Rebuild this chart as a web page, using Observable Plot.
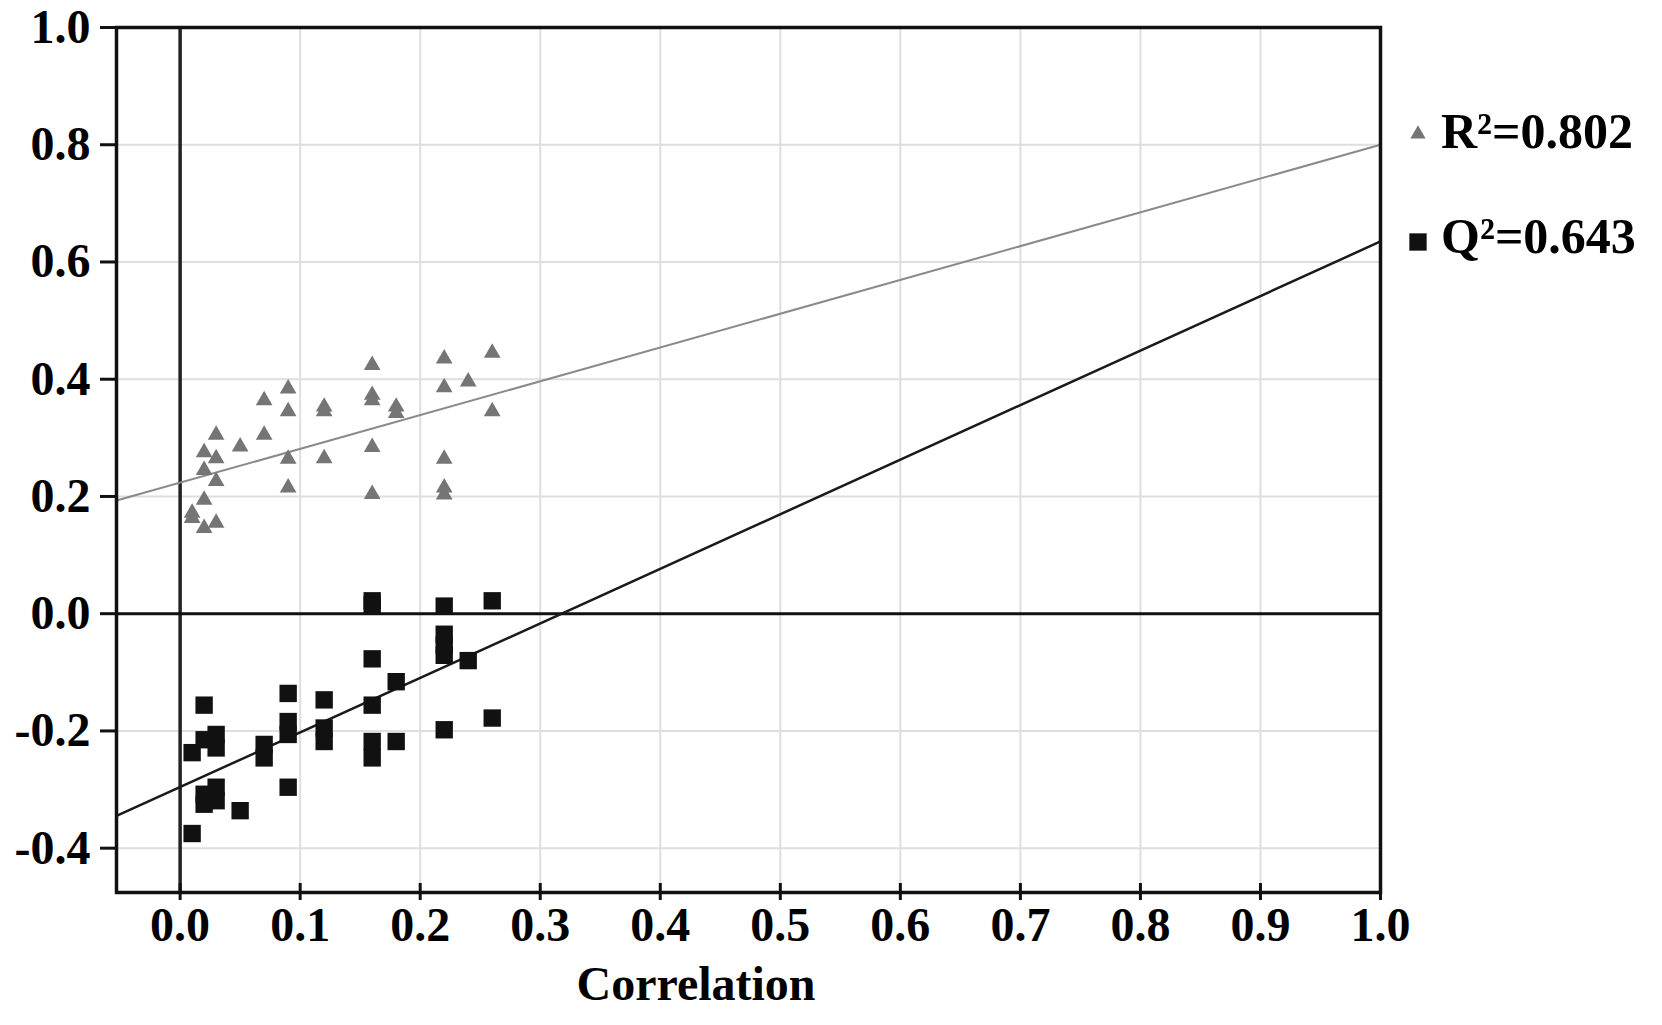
<!DOCTYPE html>
<html>
<head>
<meta charset="utf-8">
<script src="https://cdn.jsdelivr.net/npm/d3@7"></script>
<script src="https://cdn.jsdelivr.net/npm/@observablehq/plot@0.6"></script>
<style>
  html, body { margin: 0; padding: 0; background: #fff; }
  #chart { position: relative; width: 1662px; height: 1025px; }
</style>
</head>
<body>
<div id="chart"></div>
<script>
// ---- data ----
const xTicks = [0.0, 0.1, 0.2, 0.3, 0.4, 0.5, 0.6, 0.7, 0.8, 0.9, 1.0];
const yTicks = [-0.4, -0.2, 0.0, 0.2, 0.4, 0.6, 0.8, 1.0];

const r2X = [0.01, 0.01, 0.02, 0.02, 0.02, 0.02, 0.03, 0.03, 0.03, 0.03, 0.05, 0.07, 0.07,
             0.09, 0.09, 0.09, 0.09, 0.12, 0.12, 0.12, 0.16, 0.16, 0.16, 0.16, 0.16,
             0.18, 0.18, 0.22, 0.22, 0.22, 0.22, 0.22, 0.24, 0.26, 0.26];
const r2Y = [0.172, 0.163, 0.275, 0.245, 0.194, 0.146, 0.305, 0.265, 0.226, 0.155, 0.285, 0.364, 0.305,
             0.384, 0.345, 0.264, 0.215, 0.353, 0.345, 0.265, 0.424, 0.373, 0.364, 0.284, 0.204,
             0.353, 0.342, 0.435, 0.386, 0.264, 0.215, 0.203, 0.396, 0.445, 0.345];

const q2X = [0.01, 0.01, 0.02, 0.02, 0.02, 0.02, 0.03, 0.03, 0.03, 0.03, 0.05, 0.07, 0.07,
             0.09, 0.09, 0.09, 0.09, 0.12, 0.12, 0.12, 0.16, 0.16, 0.16, 0.16, 0.16, 0.16,
             0.18, 0.18, 0.22, 0.22, 0.22, 0.22, 0.22, 0.24, 0.26, 0.26];
const q2Y = [-0.237, -0.375, -0.156, -0.215, -0.308, -0.325, -0.206, -0.229, -0.296, -0.319, -0.336, -0.223, -0.246,
             -0.136, -0.184, -0.206, -0.296, -0.147, -0.195, -0.218, 0.022, 0.015, -0.077, -0.156, -0.218, -0.246,
             -0.116, -0.218, 0.013, -0.035, -0.054, -0.071, -0.198, -0.080, 0.022, -0.178];

const r2LineX = [-0.053, 1.0];
const r2LineY = [0.193, 0.800];
const q2LineX = [-0.053, 1.0];
const q2LineY = [-0.345, 0.635];

const legendLabels = ["R²=0.802", "Q²=0.643"];
const xLabel = "Correlation";

// ---- tables ----
const r2 = r2X.map((x, i) => ({x, y: r2Y[i]}));
const q2 = q2X.map((x, i) => ({x, y: q2Y[i]}));
const r2Line = r2LineX.map((x, i) => ({x, y: r2LineY[i]}));
const q2Line = q2LineX.map((x, i) => ({x, y: q2LineY[i]}));
const fmt = d => (Math.abs(d) < 1e-9 ? 0 : d).toFixed(1);   // plain hyphen minus

const W = 1662, H = 1025;
const mL = 116, mR = 282, mT = 27, mB = 133;
const innerH = H - mT - mB;

const svg = Plot.plot({
  width: W, height: H,
  marginLeft: mL, marginRight: mR, marginTop: mT, marginBottom: mB,
  x: {domain: [-0.053, 1.0]},
  y: {domain: [-0.4756, 1.0]},
  style: {
    fontFamily: "'Liberation Serif', 'Times New Roman', serif",
    fontSize: "48px",
    fontWeight: "bold",
    color: "#000",
    background: "#fff",
    overflow: "visible"
  },
  marks: [
    Plot.gridX(xTicks, {stroke: "#dedede", strokeOpacity: 1, strokeWidth: 2}),
    Plot.gridY(yTicks, {stroke: "#dedede", strokeOpacity: 1, strokeWidth: 2}),
    Plot.ruleX([0], {stroke: "#222", strokeWidth: 3.5}),
    Plot.ruleY([0], {stroke: "#111", strokeWidth: 3}),
    Plot.line(r2Line, {x: "x", y: "y", stroke: "#8a8a8a", strokeWidth: 2}),
    Plot.line(q2Line, {x: "x", y: "y", stroke: "#1a1a1a", strokeWidth: 2.5}),
    Plot.dot(r2, {x: "x", y: "y", symbol: "triangle", r: 6.2, fill: "#757575", stroke: "none"}),
    Plot.dot(q2, {x: "x", y: "y", symbol: "square", r: 9.8, fill: "#111", stroke: "none"}),
    Plot.frame({stroke: "#111", strokeWidth: 3.5}),
    Plot.ruleX(xTicks, {stroke: "#111", strokeWidth: 3, insetTop: innerH - 9}),
    Plot.axisX(xTicks, {tickSize: 8, tickPadding: 6, tickFormat: fmt, label: null, strokeWidth: 3, stroke: "#111"}),
    Plot.axisY(yTicks, {tickSize: 16, tickPadding: 10, tickFormat: fmt, label: null, strokeWidth: 3, stroke: "#111"})
  ]
});

// ---- legend and x label ----
const g = d3.select(svg).append("g")
  .attr("font-family", "'Liberation Serif', 'Times New Roman', serif")
  .attr("font-weight", "bold")
  .attr("font-size", 50)
  .attr("text-anchor", "start")
  .attr("fill", "#000");

const triPath = d3.symbol(d3.symbolTriangle, 100)();
const sqPath = d3.symbol(d3.symbolSquare, 300)();
g.append("path").attr("d", triPath).attr("transform", "translate(1418,134)").attr("fill", "#757575");
g.append("text").attr("x", 1441).attr("y", 148).attr("text-anchor", "start").text(legendLabels[0]);
g.append("path").attr("d", sqPath).attr("transform", "translate(1418,242)").attr("fill", "#111");
g.append("text").attr("x", 1441).attr("y", 253).attr("text-anchor", "start").text(legendLabels[1]);

g.append("text").attr("x", 696).attr("y", 1000).attr("text-anchor", "middle")
  .attr("font-size", 48).text(xLabel);

document.getElementById("chart").appendChild(svg);
</script>
</body>
</html>
